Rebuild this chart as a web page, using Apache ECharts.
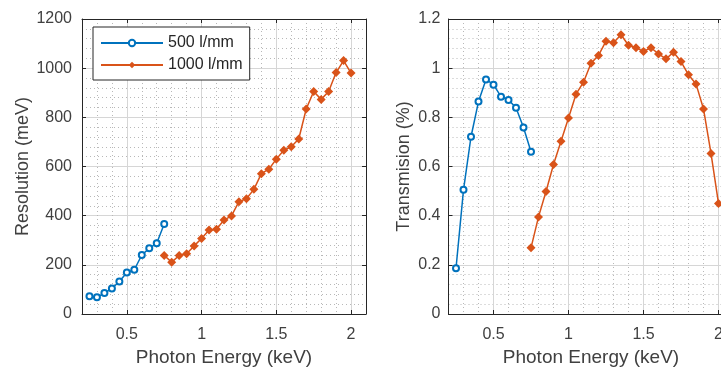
<!DOCTYPE html>
<html><head><meta charset="utf-8">
<script src="https://cdn.jsdelivr.net/npm/echarts@6/dist/echarts.min.js"></script>
<style>html,body{margin:0;padding:0;background:#fff}#c{width:721px;height:370px}</style>
</head><body><div id="c"></div>
<script>
// ---- data ----
const seriesNames = ['500 l/mm', '1000 l/mm'];
const energy500 = [0.25, 0.30, 0.35, 0.40, 0.45, 0.50, 0.55, 0.60, 0.65, 0.70, 0.75];
const energy1000 = [0.75, 0.80, 0.85, 0.90, 0.95, 1.00, 1.05, 1.10, 1.15, 1.20, 1.25, 1.30, 1.35,
                    1.40, 1.45, 1.50, 1.55, 1.60, 1.65, 1.70, 1.75, 1.80, 1.85, 1.90, 1.95, 2.00];
const res500 = [72, 68, 85, 104, 132, 169, 180, 240, 267, 288, 366];
const res1000 = [238, 211, 238, 245, 277, 307, 342, 345, 382, 399, 457, 469, 507,
                 571, 589, 630, 666, 680, 712, 834, 905, 873, 905, 982, 1031, 980];
const trans500 = [0.186, 0.505, 0.721, 0.864, 0.954, 0.933, 0.884, 0.871, 0.839, 0.759, 0.660];
const trans1000 = [0.269, 0.395, 0.498, 0.608, 0.703, 0.797, 0.894, 0.943, 1.020, 1.052, 1.110, 1.103, 1.136,
                   1.093, 1.083, 1.068, 1.083, 1.058, 1.038, 1.065, 1.027, 0.973, 0.936, 0.834, 0.653, 0.450];
const xRange = [0.2, 2.1];
const resRange = [0, 1200], resStep = 200;
const transRange = [0, 1.2], transStep = 0.2;
const xName = 'Photon Energy (keV)';
const yNames = ['Resolution (meV)', 'Transmision (%)'];

// ---- styling ----
const BLUE = '#0072BD', ORANGE = '#D95319';
const FRAME = '#262626', TXT = '#404040';
const FONT = '"Liberation Sans", Arial, sans-serif';
const majorGrid = {show: true, lineStyle: {color: '#d6d6d6', width: 1}};
const minorGrid = {show: true, lineStyle: {color: '#b8b8b8', width: 1, type: [1, 3]}};

function bottomX(gi) {
  return {type: 'value', gridIndex: gi, position: 'bottom', min: xRange[0], max: xRange[1], splitNumber: 4,
    name: xName, nameLocation: 'middle', nameGap: 34,
    nameTextStyle: {fontFamily: FONT, fontSize: 19, color: TXT},
    axisLine: {show: true, onZero: false, lineStyle: {color: FRAME, width: 1}},
    axisTick: {show: true, inside: true, length: 4, lineStyle: {color: FRAME}},
    axisLabel: {fontFamily: FONT, fontSize: 16, color: TXT, margin: 13, showMinLabel: false, showMaxLabel: false},
    splitLine: majorGrid, minorTick: {show: false, splitNumber: 5}, minorSplitLine: minorGrid};
}
function topX(gi) {
  return {type: 'value', gridIndex: gi, position: 'top', min: xRange[0], max: xRange[1], splitNumber: 4,
    axisLine: {show: true, onZero: false, lineStyle: {color: FRAME, width: 1}},
    axisTick: {show: true, inside: true, length: 4, lineStyle: {color: FRAME}},
    axisLabel: {show: false}, splitLine: {show: false}};
}
function leftY(gi, range, step, name, gap, margin) {
  return {type: 'value', gridIndex: gi, position: 'left', min: range[0], max: range[1], interval: step,
    name: name, nameLocation: 'middle', nameGap: gap,
    nameTextStyle: {fontFamily: FONT, fontSize: 18, color: TXT},
    axisLine: {show: true, onZero: false, lineStyle: {color: FRAME, width: 1}},
    axisTick: {show: true, inside: true, length: 4, lineStyle: {color: FRAME}},
    axisLabel: {fontFamily: FONT, fontSize: 16, color: TXT, margin: margin,
                formatter: v => String(Math.round(v * 1000) / 1000)},
    splitLine: majorGrid, minorTick: {show: false, splitNumber: 5}, minorSplitLine: minorGrid};
}
function rightY(gi, range, step) {
  return {type: 'value', gridIndex: gi, position: 'right', min: range[0], max: range[1], interval: step,
    axisLine: {show: true, onZero: false, lineStyle: {color: FRAME, width: 1}},
    axisTick: {show: true, inside: true, length: 4, lineStyle: {color: FRAME}},
    axisLabel: {show: false}, splitLine: {show: false}};
}
function pairs(xs, ys) { return xs.map((x, i) => [x, ys[i]]); }
function blueSeries(xi, yi, ys) {
  return {name: seriesNames[0], type: 'line', xAxisIndex: xi, yAxisIndex: yi, data: pairs(energy500, ys),
    symbol: 'emptyCircle', symbolSize: 6, showAllSymbol: true,
    lineStyle: {color: BLUE, width: 1.5}, itemStyle: {color: BLUE, borderColor: BLUE, borderWidth: 1.5},
    emphasis: {disabled: true}, animation: false, z: 3};
}
function orangeSeries(xi, yi, ys) {
  return {name: seriesNames[1], type: 'line', xAxisIndex: xi, yAxisIndex: yi, data: pairs(energy1000, ys),
    symbol: 'diamond', symbolSize: 9, showAllSymbol: true,
    lineStyle: {color: ORANGE, width: 1.5}, itemStyle: {color: ORANGE, borderColor: ORANGE, borderWidth: 0},
    emphasis: {disabled: true}, animation: false, z: 3};
}

const chart = echarts.init(document.getElementById('c'), null, {renderer: 'canvas'});
chart.setOption({
  backgroundColor: '#ffffff',
  animation: false,
  textStyle: {fontFamily: FONT},
  grid: [
    {left: 82, right: 355, top: 19, bottom: 56, containLabel: false, outerBoundsMode: 'none'},
    {left: 448.5, width: 285, top: 19, bottom: 56, containLabel: false, outerBoundsMode: 'none'}
  ],
  xAxis: [bottomX(0), topX(0), bottomX(1), topX(1)],
  yAxis: [leftY(0, resRange, resStep, yNames[0], 40, 10), rightY(0, resRange, resStep),
          leftY(1, transRange, transStep, yNames[1], 35, 8), rightY(1, transRange, transStep)],
  legend: {
    data: seriesNames, orient: 'vertical', left: 93, top: 27,
    padding: [8, 7, 7, 7], itemGap: 6, itemWidth: 62, itemHeight: 8,
    backgroundColor: '#ffffff', borderColor: FRAME, borderWidth: 1, borderRadius: 0,
    textStyle: {fontFamily: FONT, fontSize: 16, color: '#262626'}, selectedMode: false
  },
  series: [
    blueSeries(0, 0, res500), orangeSeries(0, 0, res1000),
    blueSeries(2, 2, trans500), orangeSeries(2, 2, trans1000)
  ]
});
</script></body></html>
